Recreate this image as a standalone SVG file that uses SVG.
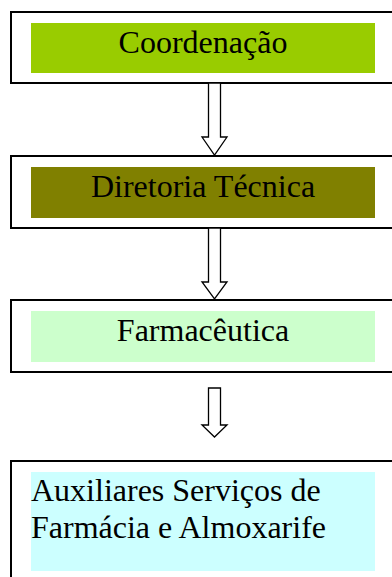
<svg xmlns="http://www.w3.org/2000/svg" width="392" height="577" viewBox="0 0 392 577">
<style>
.box{fill:#fff;stroke:#000;stroke-width:2}
.t{font-family:"Liberation Serif","Times New Roman",serif;font-size:32px;fill:#000}
.arr{fill:#fff;stroke:#000;stroke-width:1.3;stroke-linejoin:miter}
</style>
<rect width="392" height="577" fill="#fff"/>
<g id="coordenacao">
<rect class="box" x="11" y="12" width="390" height="71"/>
<rect x="31" y="23" width="344" height="50" fill="#99cc00"/>
<text class="t" x="203" y="53" text-anchor="middle">Coordenação</text>
</g>
<g id="diretoria">
<rect class="box" x="11" y="156" width="390" height="72"/>
<rect x="31" y="167" width="344" height="51" fill="#808000"/>
<text class="t" x="203" y="197" text-anchor="middle">Diretoria Técnica</text>
</g>
<g id="farmaceutica">
<rect class="box" x="11" y="300" width="390" height="72"/>
<rect x="31" y="311" width="344" height="51" fill="#ccffcc"/>
<text class="t" x="203" y="341" text-anchor="middle">Farmacêutica</text>
</g>
<g id="auxiliares">
<rect class="box" x="11" y="461" width="390" height="130"/>
<rect x="31" y="472" width="344" height="99" fill="#ccffff"/>
<text class="t" x="31" y="501">Auxiliares Serviços de</text>
<text class="t" x="31" y="538">Farmácia e Almoxarife</text>
</g>
<g id="connectors">
<path class="arr" d="M208.5,83 H220.5 V137 H227 L214.5,155 L202,137 H208.5 Z"/>
<path class="arr" d="M208.5,228 H220.5 V282 H227 L214.5,299 L202,282 H208.5 Z"/>
<path class="arr" d="M208.5,388 H220.5 V425 H227 L214.5,437 L202,425 H208.5 Z"/>
</g>
</svg>
